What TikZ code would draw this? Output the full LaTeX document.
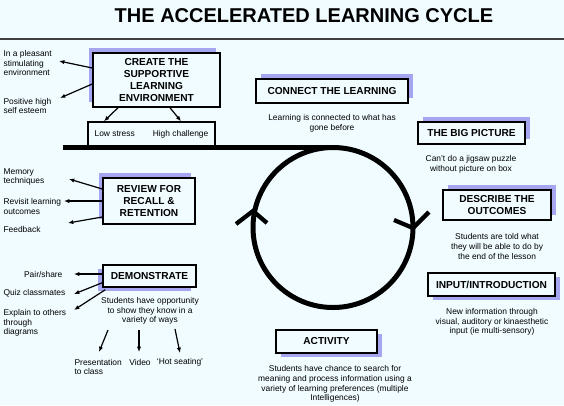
\documentclass[tikz,border=0pt]{standalone}
\usepackage{fontspec}
\setmainfont{Liberation Sans}
\usetikzlibrary{positioning,arrows.meta,calc,shadows}
\definecolor{bg}{RGB}{240,252,255}
\definecolor{shade}{RGB}{165,165,240}

\begin{document}
\begin{tikzpicture}[x=0.75pt,y=-0.75pt,
  hd/.style={draw,line width=1.1pt,fill=bg,align=center,inner sep=1pt,font=\fontsize{7.6}{8.8}\selectfont\bfseries},
  txt/.style={inner sep=1pt,font=\fontsize{6.3}{7.3}\selectfont},
  edge/.style={-{Latex[length=4pt,width=3.2pt]},line width=0.9pt},
  tick/.style={line width=3.2pt},
  shNW/.style={general shadow={fill=shade,shadow xshift=-3pt,shadow yshift=3.5pt}},
  shNE/.style={general shadow={fill=shade,shadow xshift=3.75pt,shadow yshift=3.75pt}},
  shSE/.style={general shadow={fill=shade,shadow xshift=3.75pt,shadow yshift=-3pt}},
  shSW/.style={general shadow={fill=shade,shadow xshift=-3.5pt,shadow yshift=-3pt}}
]
\fill[bg] (0,0) rectangle (564,405);
\useasboundingbox (0,0) rectangle (564,405);
% title
\node[font=\fontsize{15}{18}\selectfont\bfseries] (title) at (304,16) {THE ACCELERATED LEARNING CYCLE};
\draw[line width=0.8pt,black!75] (0,39) -- (564,39);
% left column
\node[hd,shNW,minimum width=95.25pt,minimum height=40.5pt] (create) at (156.5,80) {CREATE THE\\SUPPORTIVE\\LEARNING\\ENVIRONMENT};
\node[draw,line width=1.1pt,fill=bg,minimum width=95.25pt,minimum height=18pt,inner sep=0pt,font=\fontsize{6.3}{7.3}\selectfont] (lowhigh) at (151.5,134) {Low stress\hspace{13.5pt}High challenge};
\node[txt,anchor=west,align=left] (pleasant) at (2,63) {In a pleasant\\stimulating\\environment};
\node[txt,anchor=west,align=left] (esteem) at (2,106) {Positive high\\self esteem};
\draw[edge] ($(create.west)+(0,-12)$) -- ($(pleasant.west)+(57,-2)$);
\draw[edge] ($(create.west)+(0,4)$) -- ($(esteem.west)+(58,-8)$);
\draw[edge] ($(create.south)+(-38.5,0)$) -- ($(lowhigh.north)+(-47.5,0)$);
\draw[edge] ($(create.south)+(13.5,0)$) -- ($(lowhigh.north)+(29.5,0)$);

\node[hd,shNW,minimum width=69pt,minimum height=34.5pt] (review) at (149,201) {REVIEW FOR\\RECALL \&\\RETENTION};
\node[txt,anchor=west,align=left] (memory) at (2,177) {Memory\\techniques};
\node[txt,anchor=west,align=left] (revisit) at (2,206.5) {Revisit learning\\outcomes};
\node[txt,anchor=west] (feedback) at (2,229) {Feedback};
\draw[edge] ($(review.west)+(0,-12)$) -- ($(memory.west)+(67,2)$);
\draw[edge] (review.west) -- ($(revisit.west)+(62,-5.5)$);
\draw[edge] ($(review.west)+(0,16)$) -- ($(feedback.west)+(66,-6)$);

\node[hd,shSW,minimum width=69.75pt,minimum height=16.5pt] (demo) at (149.5,276) {DEMONSTRATE};
\node[txt,anchor=east] (pair) at (64,274) {Pair/share};
\node[txt,anchor=west] (quiz) at (2,293) {Quiz classmates};
\node[txt,anchor=west,align=left] (explain) at (2,323) {Explain to others\\through\\diagrams};
\draw[edge] ($(demo.west)+(0,-2)$) -- ($(pair.east)+(10,0)$);
\draw[edge] ($(demo.south west)+(0,-5)$) -- ($(quiz.west)+(72,1)$);
\draw[edge] ($(demo.south west)+(3,2)$) -- ($(explain.west)+(72,-13)$);
\node[txt,align=center] (demotxt) at (150,311) {Students have opportunity\\to show they know in a\\variety of ways};
\node[txt,anchor=west,align=left] (present) at (73,367) {Presentation\\to class};
\node[txt] (video) at (140,362) {Video};
\node[txt] (hot) at (180,362) {`Hot seating'};
\draw[edge] ($(demotxt.center)+(-42,19)$) -- ($(present.west)+(26,-15)$);
\draw[edge] ($(demotxt.center)+(-11,19)$) -- ($(video.center)+(-1,-10)$);
\draw[edge] ($(demotxt.center)+(25,18)$) -- ($(hot.center)+(0,-9)$);

% cycle
\node[draw,circle,line width=3.75pt,minimum size=120pt,inner sep=0pt,outer sep=0pt] (cycle) at (333,227.5) {};
\coordinate (tail) at (63,147.5);
\draw[line width=3.75pt] (tail) -- (cycle.north);
\draw[tick] (236,224) -- (253,211) -- (267,223);
\draw[tick] (394,220) -- (413,228) -- (429,212);

% right column
\node[hd,shNE,minimum width=114pt,minimum height=18pt] (connect) at (332,91) {CONNECT THE LEARNING};
\node[txt,align=center] (connecttxt) at (332,123) {Learning is connected to what has\\gone before};
\node[hd,shNE,minimum width=80.25pt,minimum height=16.5pt] (bigpic) at (471.5,133) {THE BIG PICTURE};
\node[txt,align=center] (bigtxt) at (471,164) {Can't do a jigsaw puzzle\\without picture on box};
\node[hd,shNE,minimum width=81pt,minimum height=22.5pt] (describe) at (497,205) {DESCRIBE THE\\OUTCOMES};
\node[txt,align=center] (describetxt) at (497,246.5) {Students are told what\\they will be able to do by\\the end of the lesson};
\node[hd,shSE,minimum width=95.25pt,minimum height=17.25pt] (input) at (491.5,284.5) {INPUT/INTRODUCTION};
\node[txt,align=center] (inputtxt) at (492,322) {New information through\\visual, auditory or kinaesthetic\\input (ie multi-sensory)};
\node[hd,shSE,minimum width=75.75pt,minimum height=17.25pt] (activity) at (326.5,341.5) {ACTIVITY};
\node[txt,align=center] (activitytxt) at (335,384) {Students have chance to search for\\meaning and process information using a\\variety of learning preferences (multiple\\Intelligences)};
\end{tikzpicture}
\end{document}
